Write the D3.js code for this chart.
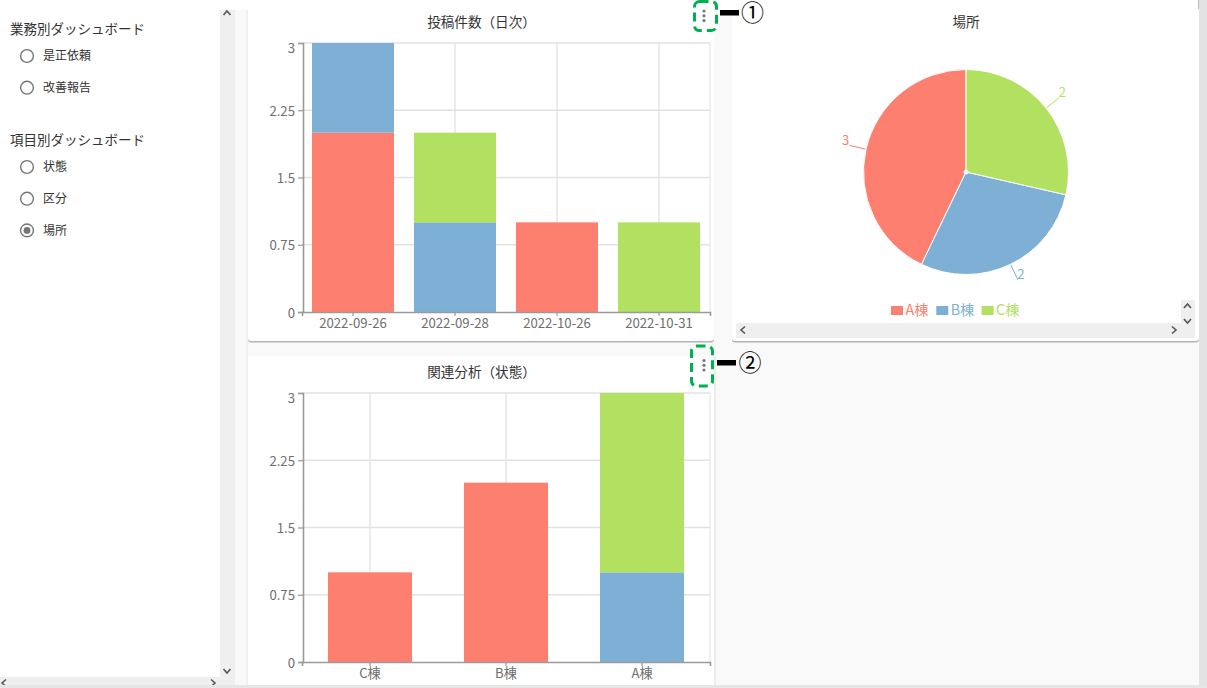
<!DOCTYPE html>
<html>
<head>
<meta charset="utf-8">
<title>ダッシュボード</title>
<script src="https://cdn.jsdelivr.net/npm/d3@7"></script>
<style>
  html, body { margin: 0; padding: 0; background: #fff; overflow: hidden; }
  svg { display: block; }
  text { font-family: "Noto Sans CJK JP", "Noto Sans", sans-serif; }
</style>
</head>
<body>
<script>
// data
var seriesNames = ["A棟", "B棟", "C棟"];
var seriesColors = ["#fd7f6f", "#7eb0d5", "#b2e061"];

var dailyDates = ["2022-09-26", "2022-09-28", "2022-10-26", "2022-10-31"];
var dailyA = [2, 0, 1, 0];
var dailyB = [1, 1, 0, 0];
var dailyC = [0, 1, 0, 1];

var relatedPlaces = ["C棟", "B棟", "A棟"];
var relatedA = [1, 2, 0];
var relatedB = [0, 0, 1];
var relatedC = [0, 0, 2];

var yTicks = [0, 0.75, 1.5, 2.25, 3];
var placeTotals = [3, 2, 2];

var group1Title = "業務別ダッシュボード";
var group1Items = ["是正依頼", "改善報告"];
var group2Title = "項目別ダッシュボード";
var group2Items = ["状態", "区分", "場所"];

var width = 1207;
var height = 688;
var svg = d3.select("body").append("svg")
    .attr("width", width)
    .attr("height", height);

// page background
svg.append("rect").attr("x", 235).attr("y", 10).attr("width", 964).attr("height", 675).attr("fill", "#f9f9f9");
svg.append("rect").attr("x", 246).attr("y", 10).attr("width", 2).attr("height", 675).attr("fill", "#f0f0f0");
svg.append("rect").attr("x", 1199).attr("y", 0).attr("width", 8).attr("height", 688).attr("fill", "#e3e3e3");
svg.append("rect").attr("x", 1198).attr("y", 0).attr("width", 1).attr("height", 10).attr("fill", "#bbb");

// sidebar scrollbars
svg.append("rect").attr("x", 220).attr("y", 10).attr("width", 15).attr("height", 675).attr("fill", "#efefef");
svg.append("rect").attr("x", 0).attr("y", 677).attr("width", 220).attr("height", 8).attr("fill", "#efefef");

function chevron(x, y, dir) {
  var p;
  if (dir == "up") p = [[x - 3.5, y + 2], [x, y - 2], [x + 3.5, y + 2]];
  if (dir == "down") p = [[x - 3.5, y - 2], [x, y + 2], [x + 3.5, y - 2]];
  if (dir == "left") p = [[x + 2, y - 3.5], [x - 2, y], [x + 2, y + 3.5]];
  if (dir == "right") p = [[x - 2, y - 3.5], [x + 2, y], [x - 2, y + 3.5]];
  svg.append("path").attr("d", d3.line()(p)).attr("fill", "none")
      .attr("stroke", "#555").attr("stroke-width", 1.6);
}
chevron(227, 13, "up");
chevron(227, 671, "down");
chevron(4, 683, "left");
chevron(213, 683, "right");

// sidebar radios
function radioGroup(title, items, titleY, itemY, selected) {
  svg.append("text").attr("x", 10).attr("y", titleY).attr("dy", "0.35em")
      .attr("font-size", 13.5).attr("fill", "#333").text(title);
  items.forEach(function (d, i) {
    var y = itemY + i * 31.7;
    svg.append("circle").attr("cx", 27).attr("cy", y).attr("r", 6.4)
        .attr("fill", "#fff").attr("stroke", "#757575").attr("stroke-width", 1.4);
    if (d == selected) {
      svg.append("circle").attr("cx", 27).attr("cy", y).attr("r", 3.4).attr("fill", "#757575");
    }
    svg.append("text").attr("x", 43).attr("y", y).attr("dy", "0.35em")
        .attr("font-size", 12).attr("fill", "#333").text(d);
  });
}
radioGroup(group1Title, group1Items, 29, 56, null);
radioGroup(group2Title, group2Items, 140, 167, "場所");

// cards
function card(x, y, w, h) {
  svg.append("rect").attr("x", x).attr("y", y + 1.5).attr("width", w).attr("height", h)
      .attr("rx", 3).attr("fill", "#b5b5b5");
  svg.append("rect").attr("x", x).attr("y", y).attr("width", w).attr("height", h)
      .attr("rx", 3).attr("fill", "#fff");
}
card(248, 8, 466, 333);
card(732, 8, 467, 333);
card(248, 356, 466, 340);
svg.append("rect").attr("x", 714).attr("y", 356).attr("width", 2).attr("height", 329).attr("fill", "#ececec");
// bottom strip sits on top of the lower card
svg.append("rect").attr("x", 0).attr("y", 685).attr("width", 1207).attr("height", 3).attr("fill", "#e6e6e6");

function chartTitle(text, x, y) {
  svg.append("text").attr("x", x).attr("y", y).attr("dy", "0.35em")
      .attr("text-anchor", "middle").attr("font-size", 13.6).attr("fill", "#333").text(text);
}

// stacked bars
function stackedBars(top, bottom, cats, a, b, c, padding) {
  var left = 302, right = 710;
  var x = d3.scaleBand().domain(cats).range([left, right])
      .paddingInner(padding).paddingOuter(padding / 2);
  var y = d3.scaleLinear().domain([0, 3]).range([bottom, top]);
  var g = svg.append("g");

  g.selectAll(".hgrid").data(yTicks.slice(1)).enter().append("line")
      .attr("x1", left).attr("x2", right)
      .attr("y1", function (d) { return y(d); })
      .attr("y2", function (d) { return y(d); })
      .attr("stroke", "#e2e2e2").attr("stroke-width", 1.3);
  g.selectAll(".vgrid").data(cats).enter().append("line")
      .attr("x1", function (d) { return x(d) + x.bandwidth() / 2; })
      .attr("x2", function (d) { return x(d) + x.bandwidth() / 2; })
      .attr("y1", top).attr("y2", bottom)
      .attr("stroke", "#e2e2e2").attr("stroke-width", 1.3);
  g.append("line").attr("x1", right).attr("x2", right).attr("y1", top).attr("y2", bottom)
      .attr("stroke", "#e8e8e8").attr("stroke-width", 1.3);

  var rows = cats.map(function (d, i) {
    return { cat: d, A: a[i], B: b[i], C: c[i] };
  });
  var stack = d3.stack().keys(["A", "B", "C"])(rows);
  g.selectAll(".layer").data(stack).enter().append("g")
      .attr("fill", function (d, i) { return seriesColors[i]; })
      .selectAll("rect").data(function (d) { return d; }).enter().append("rect")
      .attr("x", function (d) { return x(d.data.cat); })
      .attr("width", x.bandwidth())
      .attr("y", function (d) { return y(d[1]); })
      .attr("height", function (d) { return y(d[0]) - y(d[1]); });

  var yAxis = g.append("g").attr("transform", "translate(" + (left + 1) + ",0)")
      .call(d3.axisLeft(y).tickValues(yTicks).tickFormat(function (d) { return d; }).tickSize(5));
  var xAxis = g.append("g").attr("transform", "translate(0," + bottom + ")")
      .call(d3.axisBottom(x).tickSize(4).tickPadding(3));
  [yAxis, xAxis].forEach(function (ax) {
    ax.select(".domain").attr("stroke", "#9a9a9a").attr("stroke-width", 1.6);
    ax.selectAll(".tick line").attr("stroke", "#9a9a9a").attr("stroke-width", 1.2);
    ax.selectAll("text").attr("fill", "#6e6e6e").attr("font-size", 13.2)
        .attr("font-family", "\"Noto Sans CJK JP\", \"Noto Sans\", sans-serif");
  });
  // labels sit a little low, the top one kept inside the plot
  yAxis.selectAll(".tick text").attr("y", function (d) { return d == 3 ? 5 : 1; });
}

chartTitle("投稿件数（日次）", 481.5, 22);
stackedBars(43, 312, dailyDates, dailyA, dailyB, dailyC, 0.196);
chartTitle("関連分析（状態）", 481.5, 372);
stackedBars(393, 662, relatedPlaces, relatedA, relatedB, relatedC, 0.382);

// pie
chartTitle("場所", 966, 22);
var cx = 966, cy = 172, radius = 102.5;
var pie = d3.pie().sort(null).startAngle(2 * Math.PI).endAngle(0);
var arcs = pie(placeTotals);
var arc = d3.arc().innerRadius(0).outerRadius(radius);
var pieG = svg.append("g").attr("transform", "translate(" + cx + "," + cy + ")");
pieG.selectAll("path").data(arcs).enter().append("path")
    .attr("d", arc)
    .attr("fill", function (d, i) { return seriesColors[i]; })
    .attr("stroke", "#fff").attr("stroke-width", 1);
pieG.append("circle").attr("r", 2.5).attr("fill", "#fff");

function midAngle(d) { return (d.startAngle + d.endAngle) / 2; }
pieG.selectAll(".leader").data(arcs).enter().append("line")
    .attr("x1", function (d) { return Math.sin(midAngle(d)) * (radius + 0.5); })
    .attr("y1", function (d) { return -Math.cos(midAngle(d)) * (radius + 0.5); })
    .attr("x2", function (d) { return Math.sin(midAngle(d)) * (radius + 17); })
    .attr("y2", function (d) { return -Math.cos(midAngle(d)) * (radius + 17); })
    .attr("stroke", function (d, i) { return seriesColors[i]; });
pieG.selectAll(".pielabel").data(arcs).enter().append("text")
    .attr("x", function (d) { return Math.sin(midAngle(d)) * (radius + 17) + (Math.sin(midAngle(d)) > 0 ? 3 : -4); })
    .attr("y", function (d) { return -Math.cos(midAngle(d)) * (radius + 17) - 5; })
    .attr("dy", "0.35em").attr("text-anchor", "middle")
    .attr("font-size", 13)
    .attr("fill", function (d, i) { return seriesColors[i]; })
    .text(function (d) { return d.value; });

// legend
var legend = svg.selectAll(".legend").data(seriesNames).enter().append("g")
    .attr("transform", function (d, i) { return "translate(" + (891 + i * 45.3) + ",306)"; });
legend.append("rect").attr("width", 12).attr("height", 9)
    .attr("fill", function (d, i) { return seriesColors[i]; });
legend.append("text").attr("x", 14.5).attr("y", 4).attr("dy", "0.35em").attr("font-size", 14.2)
    .attr("fill", function (d, i) { return seriesColors[i]; })
    .text(function (d) { return d; });

// pie card scrollbars
svg.append("rect").attr("x", 736).attr("y", 323).attr("width", 459).attr("height", 15).attr("fill", "#efefef");
svg.append("rect").attr("x", 1181).attr("y", 300).attr("width", 14).attr("height", 23).attr("fill", "#efefef");
chevron(1187.5, 306, "up");
chevron(1187.5, 321, "down");
chevron(743, 330, "left");
chevron(1174, 330, "right");

// menu dots + annotations
function menuDots(x, ys) {
  svg.selectAll(null).data(ys).enter().append("circle")
      .attr("cx", x).attr("cy", function (d) { return d; }).attr("r", 1.6).attr("fill", "#777");
}
menuDots(704, [11, 15.8, 20.6]);
menuDots(704, [360.5, 365.3, 370]);

function callout(x, y, w, h, barX, barY, barW, label, labelX, labelY) {
  svg.append("rect").attr("x", x).attr("y", y).attr("width", w).attr("height", h).attr("rx", 5)
      .attr("fill", "none").attr("stroke", "#00b050").attr("stroke-width", 3)
      .attr("stroke-dasharray", "9 5");
  svg.append("rect").attr("x", barX).attr("y", barY).attr("width", barW).attr("height", 5.5).attr("fill", "#000");
  svg.append("text").attr("x", labelX).attr("y", labelY).attr("dy", "0.35em")
      .attr("text-anchor", "middle").attr("font-size", 23).attr("fill", "#000").text(label);
}
callout(694.5, 1.5, 22, 29, 720, 10, 19, "①", 752.5, 13);
callout(691.5, 346, 21, 40, 717, 360, 19, "②", 750, 363);
</script>
</body>
</html>
